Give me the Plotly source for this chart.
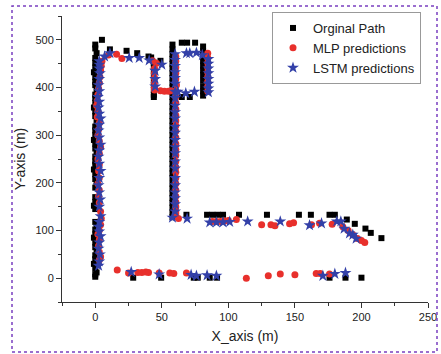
import plotly.graph_objects as go

# ---------------- data ----------------
orig_x = ([0, 0, 1, 0, -1, 0, 0, 1, 0, 0, -1, 0, 0, 1, 0, 0, -1, 0, 0, 0, 1, 0, 0, -1, 0, 0, 0, 1, 0, 0,
           -1, 0, 0, 0, 1, 0, 0, -1, 0, 0, 0, 1, 0, 0, 0, -1, 0, 0, 0, 1, 0, 0]
          + [5, 11, 23.5, 31.5, 40, 42, 49]
          + [44, 44, 44, 44, 44, 44, 44, 44, 44]
          + [58] * 37
          + [65, 69, 75, 81]
          + [81] * 10
          + [65, 71]
          + [68.5, 84, 88, 92, 96, 108, 129, 153, 162, 176, 180, 189, 195, 203, 207, 215]
          + [28.5, 49.5, 74, 77, 86, 91.5, 176, 188, 200])
orig_y = ([3, 8, 12, 20, 30, 40, 48, 58, 65, 75, 85, 92, 102, 110, 118, 145, 152, 160, 170, 190, 198, 208,
           218, 228, 238, 245, 255, 262, 272, 282, 290, 300, 310, 318, 328, 340, 350, 358, 368, 378, 385,
           395, 405, 412, 422, 432, 442, 452, 462, 472, 482, 490]
          + [500, 480, 477, 472, 465, 463, 456]
          + [452, 444, 435, 425, 415, 405, 395, 385, 380]
          + [128, 138, 148, 158, 168, 178, 188, 198, 210, 220, 230, 240, 250, 260, 270, 280, 290, 300, 310,
             320, 330, 340, 350, 360, 370, 380, 390, 400, 410, 420, 430, 440, 450, 460, 470, 480, 490]
          + [494, 494, 494, 486]
          + [476, 466, 456, 446, 436, 426, 414, 402, 392, 383]
          + [380, 380]
          + [133, 133, 133, 133, 133, 133, 133, 133, 133, 133, 133, 123, 114, 104, 95, 84]
          + [1, 1, 1, 1, 1, 1, 1, 1, 1])

mlp_x = ([3, 4, 3, 2.5, 3, 2, 3, 4, 4.5, 4, 3, 2.5, 3, 2, 3, 2.5, 3, 2, 3, 4, 3, 2, 2.5, 3, 1.5, 2, 1,
          1.5, 2, 2.5, 3, 3.5, 4, 4.5, 5, 10, 16, 20]
         + [43, 46, 44.5, 44.5, 44.5, 44.5, 44.5, 44.5, 49, 52, 55, 57, 61]
         + [60.5] * 28
         + [84.5] * 9
         + [62.5, 88, 91, 94, 97, 100, 106, 125, 132, 135, 146, 149, 162.5, 168.5, 178, 186, 190, 193.5,
            197, 200, 202.5]
         + [16.5, 25, 32, 35, 38, 40, 48, 56, 59, 68.5, 113.5, 130, 139, 150, 166, 169, 176])
mlp_y = ([38, 45, 55, 68, 80, 92, 100, 112, 125, 140, 158, 172, 185, 198, 210, 225, 238, 250, 262, 275,
          288, 300, 312, 325, 338, 350, 362, 372, 385, 398, 410, 422, 435, 445, 455, 468, 470, 461]
         + [456, 451, 440, 430, 420, 410, 400, 395, 393, 392, 392, 393, 405]
         + [140, 150, 160, 172, 185, 198, 210, 222, 232, 245, 258, 270, 282, 295, 308, 320, 330, 342, 355,
            368, 380, 392, 418, 430, 442, 455, 465, 135]
         + [472, 462, 452, 442, 432, 422, 412, 402, 392]
         + [125, 119, 119, 119, 120, 121, 123, 112, 112, 110, 114, 116, 112, 115, 113, 108, 100, 91, 83,
            79, 75]
         + [17, 11, 12, 12, 13, 12, 11, 11, 10, 11, 0, 5, 9, 7, 10, 10, 9])

lstm_x = ([2.5, 3, 3.5, 2.5, 3, 4, 3, 2.5, 3, 4, 3.7, 3, 2.5, 3, 4, 3, 2.5, 3, 4, 3, 2.5, 3, 4, 3, 2.5,
           3, 2, 3, 2.5, 3, 3.5, 3, 3, 3, 3]
          + [7, 11, 25.5, 33, 40.5, 50]
          + [45, 45, 45]
          + [58] + [60] * 24
          + [68.5, 71, 76, 80.5]
          + [85] * 8
          + [62, 68, 74.5]
          + [69, 86, 91, 96, 101, 114.5, 139, 161, 170, 181.5, 184.5, 187, 191, 193.5, 196]
          + [27, 48, 72, 76, 84, 91, 171, 180, 188])
lstm_y = ([26, 35, 50, 62, 75, 88, 98, 108, 118, 130, 165, 180, 195, 210, 225, 240, 255, 268, 280, 295,
           310, 322, 335, 345, 358, 370, 380, 392, 405, 418, 430, 440, 448, 455, 150]
          + [465, 472, 462, 462, 457, 448]
          + [435, 418, 402]
          + [127, 140, 155, 168, 180, 195, 210, 230, 245, 262, 275, 290, 305, 318, 335, 348, 362, 378, 391,
             408, 420, 432, 445, 458, 470]
          + [472, 472, 473, 468]
          + [460, 450, 440, 430, 418, 408, 398, 390]
          + [391, 388, 391]
          + [125, 117, 117, 117, 118, 119, 119, 111, 115, 119, 119, 104, 94, 91, 83]
          + [13, 8, 7, 5, 6, 5, 5, 9, 11])

x_ticks = [0, 50, 100, 150, 200, 250]
y_ticks = [0, 100, 200, 300, 400, 500]

# ---------------- figure ----------------
FONT = "Arial, Liberation Sans, sans-serif"
fig = go.Figure()
fig.add_trace(go.Scatter(x=orig_x, y=orig_y, mode="markers", name="Orginal Path",
                         marker=dict(symbol="square", size=6, color="#000000")))
fig.add_trace(go.Scatter(x=mlp_x, y=mlp_y, mode="markers", name="MLP predictions",
                         marker=dict(symbol="circle", size=7, color="#e8302c")))
fig.add_trace(go.Scatter(x=lstm_x, y=lstm_y, mode="markers", name="LSTM predictions",
                         marker=dict(symbol="star", size=9, color="#3340a8")))

L, R, T, B = 62, 13, 16, 52
W, H = 441, 354
pw, ph = W - L - R, H - T - B

def px(xp):
    return (xp - L) / pw

def py(yp):
    return (H - B - yp) / ph

fig.update_layout(
    width=W, height=H,
    margin=dict(l=L, r=R, t=T, b=B, autoexpand=False),
    paper_bgcolor="white", plot_bgcolor="white",
    font=dict(family=FONT, color="#222222"),
    showlegend=True,
    legend=dict(x=px(272), y=py(12), xanchor="left", yanchor="top",
                bgcolor="white", bordercolor="#999999", borderwidth=1,
                font=dict(size=13, family=FONT, color="#222222"),
                itemwidth=30, tracegroupgap=0),
    xaxis=dict(range=[-25, 250], tickvals=x_ticks, showgrid=False, zeroline=False,
               showline=True, linecolor="#333333", linewidth=1,
               ticks="outside", ticklen=5, tickcolor="#333333",
               minor=dict(ticks="outside", dtick=25, tick0=0, ticklen=3, tickcolor="#333333"),
               tickfont=dict(size=11, family=FONT),
               title=dict(text="X_axis (m)", font=dict(size=14, family=FONT), standoff=8)),
    yaxis=dict(range=[-50, 550], tickvals=y_ticks, showgrid=False, zeroline=False,
               showline=True, linecolor="#333333", linewidth=1,
               ticks="outside", ticklen=5, tickcolor="#333333",
               minor=dict(ticks="outside", dtick=50, tick0=0, ticklen=3, tickcolor="#333333"),
               tickfont=dict(size=11, family=FONT),
               title=dict(text="Y-axis (m)", font=dict(size=14, family=FONT), standoff=6)),
    shapes=[dict(type="rect", xref="paper", yref="paper",
                 x0=px(12), x1=px(437), y0=py(352), y1=py(6),
                 line=dict(color="#7a3fc0", width=1.5, dash="dot"))],
)

fig.write_html("out.html", config={"displayModeBar": False},
               post_script="document.body.style.margin='0px';")
